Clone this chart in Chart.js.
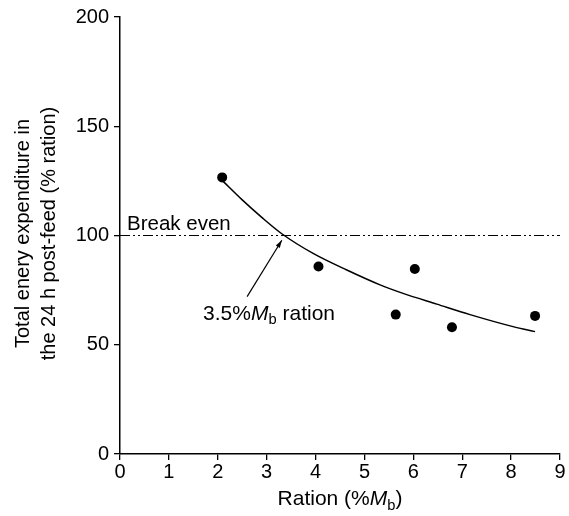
<!DOCTYPE html>
<html>
<head>
<meta charset="utf-8">
<script src="https://cdn.jsdelivr.net/npm/chart.js@4/dist/chart.umd.min.js"></script>
<style>
  body { margin: 0; background: #fff; }
  #wrap { width: 569px; height: 516px; position: relative; }
</style>
</head>
<body>
<div id="wrap"><canvas id="myChart"></canvas></div>
<script>
// measured points
var rationX = [2.09, 4.06, 5.64, 6.03, 6.79, 8.49];
var expenditure = [126.6, 85.8, 63.8, 84.7, 58.0, 63.2];

// fitted curve
var curveX = [2.1, 2.5, 2.9, 3.31, 3.95, 4.64, 5.32, 5.79, 6.48, 7.16, 8.04, 8.49];
var curveY = [125, 116.3, 108.3, 100.8, 91.8, 84.2, 77.4, 73.5, 68.6, 63.8, 58.3, 56.0];

var breakEvenX = [0, 9];
var breakEvenY = [100, 100];

var xTicks = [0, 1, 2, 3, 4, 5, 6, 7, 8, 9];
var yTicks = [0, 50, 100, 150, 200];

var FONT = '"Liberation Sans", Arial, sans-serif';

function toPoints(xs, ys) {
  var arr = [];
  for (var i = 0; i < xs.length; i++) arr.push({ x: xs[i], y: ys[i] });
  return arr;
}

// draws text pieces in a row: [text, italic, subscript]
function richText(ctx, parts, x, y, size, align) {
  var widths = [], total = 0;
  parts.forEach(function (p) {
    var s = p[2] ? size * 0.7 : size;
    ctx.font = (p[1] ? 'italic ' : '') + s + 'px ' + FONT;
    var w = ctx.measureText(p[0]).width;
    widths.push(w);
    total += w;
  });
  var cx = align === 'center' ? x - total / 2 : x;
  parts.forEach(function (p, i) {
    var s = p[2] ? size * 0.7 : size;
    ctx.font = (p[1] ? 'italic ' : '') + s + 'px ' + FONT;
    ctx.fillText(p[0], cx, p[2] ? y + size * 0.22 : y);
    cx += widths[i];
  });
}

var labelsPlugin = {
  id: 'labels',
  afterDraw: function (chart) {
    var ctx = chart.ctx;
    var xs = chart.scales.x, ys = chart.scales.y;
    var area = chart.chartArea;
    ctx.save();
    ctx.fillStyle = '#000';
    ctx.textAlign = 'left';
    ctx.textBaseline = 'alphabetic';

    // x axis title
    richText(ctx, [['Ration (%', false, false], ['M', true, false], ['b', false, true], [')', false, false]],
      (area.left + area.right) / 2, 505, 21, 'center');

    // y axis title, two lines
    ctx.save();
    ctx.translate(23, (area.top + area.bottom) / 2 - 2);
    ctx.rotate(-Math.PI / 2);
    ctx.textAlign = 'center';
    ctx.textBaseline = 'middle';
    ctx.font = '20px ' + FONT;
    ctx.fillText('Total enery expenditure in', 0, 0);
    ctx.fillText('the 24 h post-feed (% ration)', 0, 26);
    ctx.restore();

    // break even label
    ctx.font = '20.5px ' + FONT;
    ctx.fillText('Break even', xs.getPixelForValue(0) + 7, ys.getPixelForValue(100) - 6);

    // 3.5% ration annotation + arrow
    richText(ctx, [['3.5%', false, false], ['M', true, false], ['b', false, true], [' ration', false, false]],
      xs.getPixelForValue(1.7), ys.getPixelForValue(61.5), 21, 'left');

    var tx = xs.getPixelForValue(2.6), ty = ys.getPixelForValue(72);
    var hx = xs.getPixelForValue(3.31), hy = ys.getPixelForValue(97.8);
    ctx.strokeStyle = '#000';
    ctx.lineWidth = 1.2;
    ctx.beginPath();
    ctx.moveTo(tx, ty);
    ctx.lineTo(hx, hy);
    ctx.stroke();
    var ang = Math.atan2(hy - ty, hx - tx);
    ctx.beginPath();
    ctx.moveTo(hx, hy);
    ctx.lineTo(hx - 8 * Math.cos(ang - 0.3), hy - 8 * Math.sin(ang - 0.3));
    ctx.lineTo(hx - 8 * Math.cos(ang + 0.3), hy - 8 * Math.sin(ang + 0.3));
    ctx.closePath();
    ctx.fillStyle = '#000';
    ctx.fill();
    ctx.restore();
  }
};

var gridStyle = { display: true, drawOnChartArea: false, drawTicks: true, tickLength: 6, color: '#000', lineWidth: 1.3 };
var borderStyle = { display: true, color: '#000', width: 1.5 };

new Chart(document.getElementById('myChart').getContext('2d'), {
  type: 'scatter',
  data: {
    datasets: [{
      label: 'Measured',
      data: toPoints(rationX, expenditure),
      showLine: false,
      pointRadius: 5,
      pointBackgroundColor: '#000',
      pointBorderColor: '#000',
      pointBorderWidth: 0
    }, {
      label: 'Fit',
      data: toPoints(curveX, curveY),
      showLine: true,
      pointRadius: 0,
      borderColor: '#000',
      borderWidth: 1.5,
      cubicInterpolationMode: 'monotone'
    }, {
      label: 'Break even',
      data: toPoints(breakEvenX, breakEvenY),
      showLine: true,
      pointRadius: 0,
      borderColor: '#000',
      borderWidth: 1.2,
      borderDash: [10, 3, 2, 3, 2, 3]
    }]
  },
  options: {
    responsive: true,
    maintainAspectRatio: false,
    animation: false,
    layout: { padding: { top: 15, right: 9, left: 0, bottom: 0 } },
    plugins: {
      legend: { display: false },
      tooltip: { enabled: false }
    },
    scales: {
      x: {
        type: 'linear',
        min: 0, max: 9,
        grid: gridStyle,
        border: borderStyle,
        afterBuildTicks: function (s) { s.ticks = xTicks.map(function (v) { return { value: v }; }); },
        afterFit: function (s) { s.height = 62; },
        ticks: { color: '#000', font: { family: FONT, size: 20 }, padding: 0, maxRotation: 0 }
      },
      y: {
        type: 'linear',
        min: 0, max: 200,
        grid: gridStyle,
        border: borderStyle,
        afterBuildTicks: function (s) { s.ticks = yTicks.map(function (v) { return { value: v }; }); },
        afterFit: function (s) { s.width = 120; },
        ticks: { color: '#000', font: { family: FONT, size: 20 }, padding: 5 }
      }
    }
  },
  plugins: [labelsPlugin]
});
</script>
</body>
</html>
